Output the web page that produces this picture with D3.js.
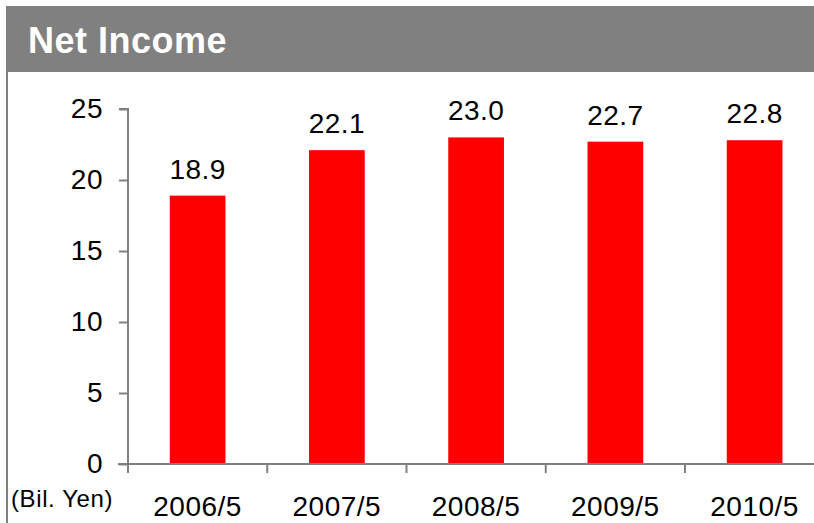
<!DOCTYPE html>
<html>
<head>
<meta charset="utf-8">
<script src="https://cdn.jsdelivr.net/npm/d3@7"></script>
<style>
  html, body { margin: 0; padding: 0; background: #fff; }
  svg { display: block; font-family: 'Liberation Sans', Arial, sans-serif; }
</style>
</head>
<body>
<div id="chart"></div>
<script>
// fiscal years and net income (Bil. Yen)
var years = ['2006/5', '2007/5', '2008/5', '2009/5', '2010/5']
var income = [18.9, 22.1, 23.0, 22.7, 22.8]
var yTicks = [0, 5, 10, 15, 20, 25]

var width = 814
var height = 523
var grey = '#808080'

var svg = d3.select('#chart').append('svg')
  .attr('width', width)
  .attr('height', height)

// header band + left frame line
svg.append('rect')
  .attr('x', 6).attr('y', 6)
  .attr('width', width - 6).attr('height', 66)
  .attr('fill', grey)
svg.append('line')
  .attr('x1', 7).attr('x2', 7)
  .attr('y1', 72).attr('y2', height)
  .attr('stroke', grey).attr('stroke-width', 2)
svg.append('text')
  .attr('x', 28).attr('y', 53)
  .attr('fill', '#fff')
  .attr('font-size', 36)
  .attr('font-weight', 'bold')
  .attr('letter-spacing', 0.5)
  .text('Net Income')

var x = d3.scaleBand()
  .domain(years)
  .range([128, 128 + 5 * 139.25])
  .paddingInner(0.6)
  .paddingOuter(0.3)

var y = d3.scaleLinear()
  .domain([0, 25])
  .range([464, 109])

// bars
svg.append('g').selectAll('rect')
  .data(years)
  .enter()
  .append('rect')
    .attr('x', function (d) { return x(d) })
    .attr('y', function (d, i) { return y(income[i]) })
    .attr('width', x.bandwidth())
    .attr('height', function (d, i) { return y(0) - y(income[i]) })
    .attr('fill', '#ff0000')

// value labels
svg.append('g').selectAll('text')
  .data(years)
  .enter()
  .append('text')
    .attr('x', function (d) { return x(d) + x.bandwidth() / 2 })
    .attr('y', function (d, i) { return y(income[i]) - 17 })
    .attr('text-anchor', 'middle')
    .attr('font-size', 28)
    .attr('letter-spacing', 0.5)
    .text(function (d, i) { return income[i].toFixed(1) })

// y axis
var yAxis = d3.axisLeft(y).tickValues(yTicks).tickSize(9).tickPadding(16)
var yg = svg.append('g').attr('transform', 'translate(128,0)').call(yAxis)
yg.attr('font-family', null)
yg.select('.domain').attr('d', 'M-9,109H0V464').attr('stroke', grey).attr('stroke-width', 2).attr('fill', 'none')
yg.selectAll('line').attr('stroke', grey).attr('stroke-width', 2)
yg.selectAll('text').attr('font-size', 28).attr('letter-spacing', 0.5).attr('fill', '#000')

// x axis: line plus ticks at category boundaries
var xg = svg.append('g')
xg.append('line')
  .attr('x1', 118).attr('x2', width)
  .attr('y1', y(0)).attr('y2', y(0))
  .attr('stroke', grey).attr('stroke-width', 2)
xg.selectAll('line.sep')
  .data(years)
  .enter()
  .append('line')
    .attr('class', 'sep')
    .attr('x1', function (d) { return x(d) - x.step() * x.paddingOuter() })
    .attr('x2', function (d) { return x(d) - x.step() * x.paddingOuter() })
    .attr('y1', y(0)).attr('y2', y(0) + 9)
    .attr('stroke', grey).attr('stroke-width', 2)
xg.selectAll('text')
  .data(years)
  .enter()
  .append('text')
    .attr('x', function (d) { return x(d) + x.bandwidth() / 2 })
    .attr('y', 516)
    .attr('text-anchor', 'middle')
    .attr('font-size', 28)
    .attr('letter-spacing', 0.5)
    .text(function (d) { return d })

svg.append('text')
  .attr('x', 11).attr('y', 507)
  .attr('font-size', 24)
  .attr('letter-spacing', 0.6)
  .text('(Bil. Yen)')
</script>
</body>
</html>
